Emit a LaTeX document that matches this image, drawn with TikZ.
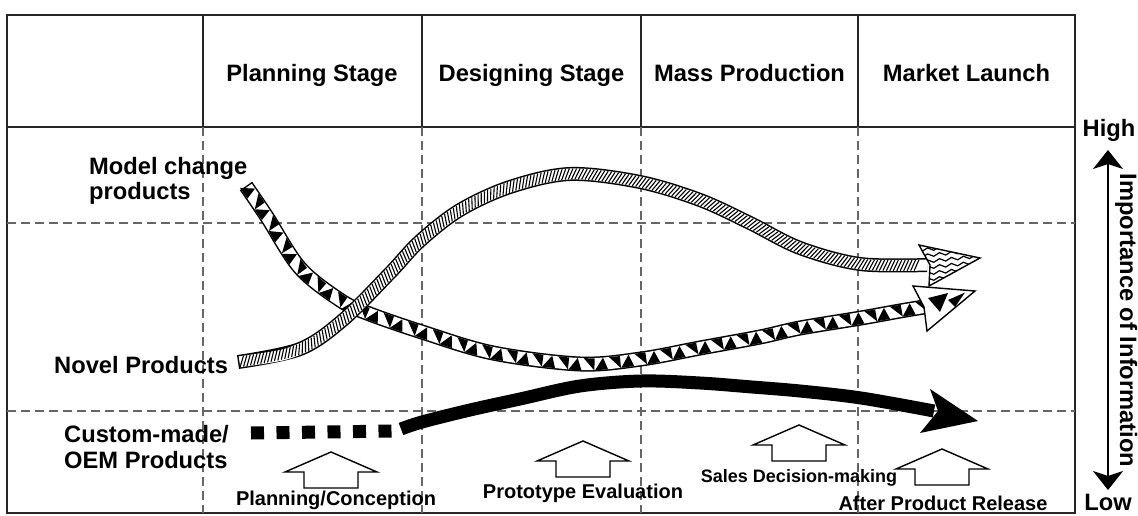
\documentclass[tikz,border=0pt]{standalone}
\usepackage{fontspec}
\setmainfont{Liberation Sans}
\usetikzlibrary{decorations.markings, decorations.pathmorphing, arrows.meta}
\begin{document}
\begin{tikzpicture}[x=1pt,y=-1pt,
  gridline/.style={line width=1.3pt, black!85},
  dgrid/.style={line width=1.2pt, black!60, dash pattern=on 9pt off 5pt},
  big/.style={font=\fontsize{23.7}{28}\selectfont\bfseries, inner sep=0pt},
  small/.style={font=\fontsize{20}{24}\selectfont\bfseries, inner sep=0pt},
  blockarrow/.style={draw=black, line width=1.4pt, fill=white, line join=miter},
  triband/.style={line width=15pt, black,
    postaction={draw, white, line width=12pt, shorten <=1.5pt},
    postaction={decorate, decoration={markings,
      mark=between positions 0.015 and 0.99 step 26pt with {
        \fill[black] (-13pt,-6pt) -- (0pt,-6pt) -- (-4pt,6pt) -- cycle;
        \fill[black] (2pt,6pt) -- (13pt,6pt) -- (13pt,-6pt) -- cycle;}}}},
  ropeband/.style={line width=14pt, black,
    postaction={draw, white, line width=11pt, shorten <=1.5pt},
    postaction={decorate, decoration={markings,
      mark=between positions 0.005 and 0.99 step 0.0045 with {
        \draw[black, line width=1.1pt] (-2.5pt,-5.3pt) -- (2.5pt,5.3pt);}}}},
  headline/.style={draw=black, line width=1.4pt, fill=white, line join=miter},
]
\useasboundingbox (0,0) rectangle (1138,516);

% grid
\draw[gridline, line width=1.6pt] (7,15) rectangle (1075,513);
\draw[gridline] (7,127) -- (1075,127);
\foreach \x in {203,422,641,858} {
  \draw[gridline] (\x,15) -- (\x,127);
  \draw[dgrid] (\x,127) -- (\x,513);
}
\draw[dgrid] (7,223) -- (1075,223);
\draw[dgrid] (7,411) -- (1075,411);

% headers
\node[big, anchor=base] (hps) at (312,82) {Planning Stage};
\node[big, anchor=base] (hds) at (531.5,82) {Designing Stage};
\node[big, anchor=base] (hmp) at (749.5,82) {Mass Production};
\node[big, anchor=base] (hml) at (966.5,82) {Market Launch};

% left labels
\node[big, anchor=base west] (mc1) at (89,175) {Model change};
\node[big, anchor=base west] (mc2) at (89,200) {products};
\node[big, anchor=base west] (np) at (54,373) {Novel Products};
\node[big, anchor=base west] (cm1) at (64,442) {Custom-made/};
\node[big, anchor=base west] (cm2) at (64,468) {OEM Products};

% Model change products band (triangles)
\draw[triband] plot[smooth, tension=0.55] coordinates {(246,186) (267,217) (300,268) (340,300) (367,313) (422,332) (493,353) (580,364) (641,359) (700,348) (760,337) (800,328) (861,318) (900,311) (924,307)};
\draw[headline] (975,291) -- (913,286) -- (924,307) -- (927,331) -- cycle;
\fill[black] (928,298) -- (948,293) -- (940,312) -- cycle;
\fill[black] (948,300) -- (965,292.5) -- (955,307) -- cycle;

% Novel products band (rope)
\draw[ropeband] plot[smooth, tension=0.55] coordinates {(238,362) (300,349) (343,320) (390,273) (420,241) (460,210) (510,187) (570,174) (640,182) (700,200) (750,223) (800,248) (860,264) (927,265)};
\draw[headline] (980,258) -- (919,245) -- (930,265) -- (929,286) -- cycle;
\begin{scope}
  \clip (980,258) -- (919,245) -- (930,265) -- (929,286) -- cycle;
  \foreach \d in {-15,-9,-3,3,9,15}
    \draw[decorate, decoration={snake, amplitude=1.5pt, segment length=12pt}, line width=1.2pt] (912,266+\d) -- (990,258+\d);
\end{scope}

% Custom-made / OEM band
\draw[line width=13pt, dash pattern=on 13pt off 12.5pt] (251,433) -- (396,431);
\draw[line width=13pt] plot[smooth, tension=0.55] coordinates {(401,429) (422,422) (470,410) (520,399) (580,386) (641,381) (700,383) (752,387) (800,391) (861,398) (934,411)};
\fill[black] (978,421) -- (930,389) -- (938,411) -- (920,433) -- cycle;

% block arrows
\foreach \n/\tx/\ty in {pc/331/452, pe/583/441, sd/799/425, ap/942/449} {
  \draw[blockarrow] (\tx,\ty) -- ++(46,20) -- ++(-19,0) -- ++(0,16) -- ++(-54,0) -- ++(0,-16) -- ++(-19,0) -- cycle;
}
\node[small, anchor=base] (lpc) at (336,505) {Planning/Conception};
\node[small, anchor=base] (lpe) at (583,498) {Prototype Evaluation};
\node[small, font=\fontsize{18}{22}\selectfont\bfseries, anchor=base] (lsd) at (799,482) {Sales Decision-making};
\node[small, anchor=base] (lap) at (943,510) {After Product Release};

% importance axis
\node[big, anchor=base] (high) at (1109,137) {High};
\node[big, anchor=base] (low) at (1108,510) {Low};
\coordinate (hi) at (1108,150);
\coordinate (lo) at (1108,490);
\draw[line width=2pt, {Stealth[length=19pt,width=30pt,inset=5pt]}-{Stealth[length=19pt,width=30pt,inset=5pt]}] (hi) -- (lo);
\node[big, rotate=-90, anchor=base] (imp) at (1120,320.5) {Importance of Information};
\end{tikzpicture}
\end{document}
